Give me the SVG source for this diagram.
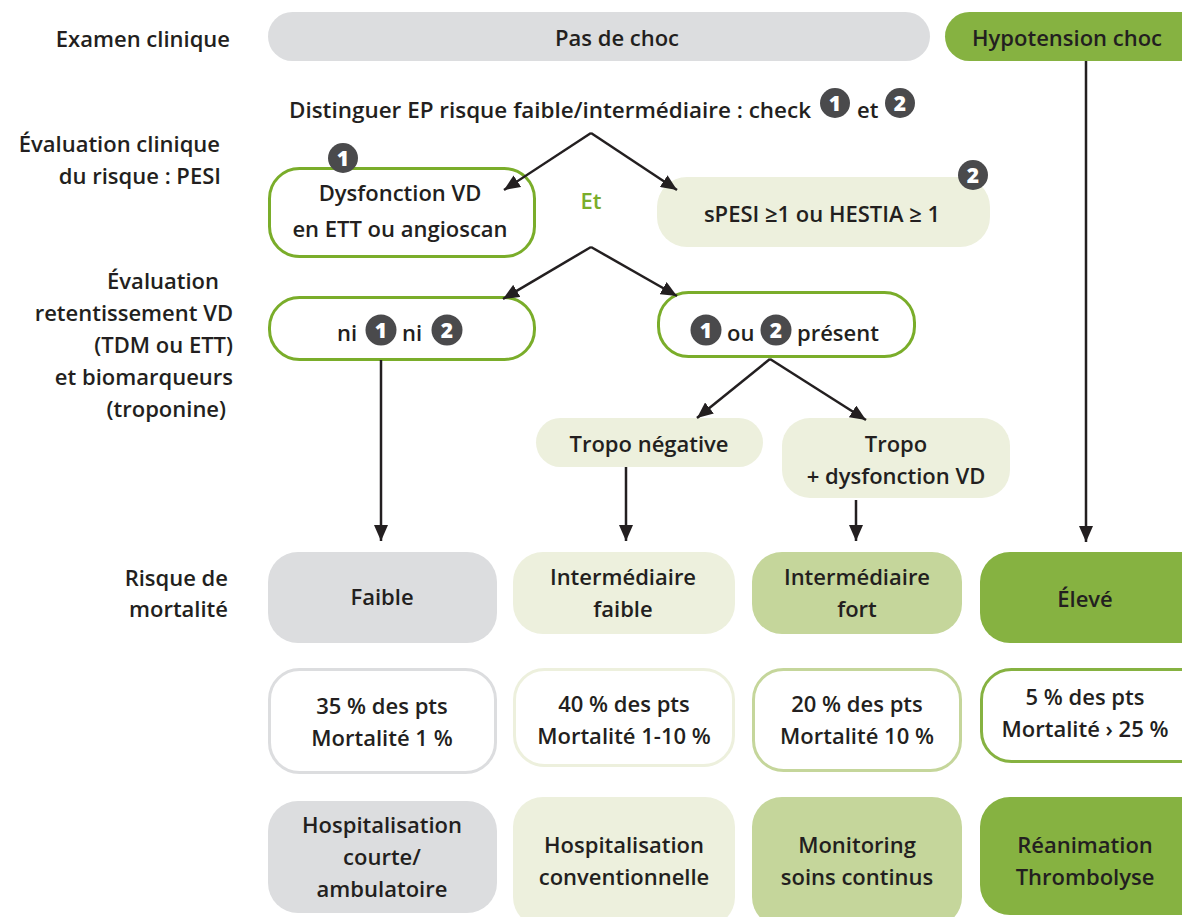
<svg xmlns="http://www.w3.org/2000/svg" width="1182" height="917" viewBox="0 0 1182 917">
<defs>
<marker id="ah" viewBox="0 0 16 14" refX="16" refY="7" markerWidth="16" markerHeight="14" orient="auto" markerUnits="userSpaceOnUse"><path d="M0 0 L16 7 L0 14 Z" fill="#231f20"/></marker>
<style>
text{font-family:"Open Sans","Noto Sans","Liberation Sans",sans-serif;font-size:22px;font-weight:600;fill:#231f20}
.c{text-anchor:middle}
.r{text-anchor:end}
.b{font-size:21px;font-weight:800;fill:#fff;text-anchor:middle}
.bd{fill:#4a4a4c}
.grey{fill:#dcdddf}
.pale{fill:#edf0dd}
.mid{fill:#c5d69b}
.dark{fill:#86b241}
.gbox{fill:#fff;stroke:#7aad2a;stroke-width:3}
.conn{stroke:#231f20;stroke-width:2.5;fill:none;marker-end:url(#ah)}
</style>
</defs>
<g id="labels">
<text class="r" x="230" y="47">Examen clinique</text>
<text class="r" x="220" y="152">Évaluation clinique</text>
<text class="r" x="221" y="184">du risque : PESI</text>
<text class="r" x="219" y="289">Évaluation</text>
<text class="r" x="233" y="321">retentissement VD</text>
<text class="r" x="233" y="353">(TDM ou ETT)</text>
<text class="r" x="233" y="385">et biomarqueurs</text>
<text class="r" x="226" y="417">(troponine)</text>
<text class="r" x="228" y="586">Risque de</text>
<text class="r" x="228" y="617">mortalité</text>
</g>
<g id="pas-de-choc"><rect class="grey" x="268" y="12" width="662" height="49" rx="24.5"/><text class="c" x="617" y="46">Pas de choc</text></g>
<g id="hypotension"><rect class="dark" x="945" y="12" width="260" height="49" rx="24.5"/><text class="c" x="1067" y="46">Hypotension choc</text></g>
<g id="distinguer">
<text x="289" y="118" textLength="522" lengthAdjust="spacingAndGlyphs">Distinguer EP risque faible/intermédiaire : check</text>
<circle class="bd" cx="835" cy="103" r="15"/><text class="b" x="835" y="111">1</text>
<text x="857" y="118">et</text>
<circle class="bd" cx="900" cy="103" r="15"/><text class="b" x="900" y="111">2</text>
</g>
<g id="dysfonction">
<rect class="gbox" x="269.5" y="168.5" width="265" height="88" rx="30"/>
<text class="c" x="400" y="201">Dysfonction VD</text>
<text class="c" x="400" y="237">en ETT ou angioscan</text>
<circle class="bd" cx="343" cy="158" r="15"/><text class="b" x="343" y="166">1</text>
</g>
<g id="et"><text class="c" x="591" y="209" style="fill:#7aad2a">Et</text></g>
<g id="spesi">
<rect class="pale" x="657" y="177" width="333" height="70" rx="30"/>
<text class="c" x="822" y="222">sPESI ≥1 ou HESTIA ≥ 1</text>
<circle class="bd" cx="973" cy="175" r="15"/><text class="b" x="973" y="183">2</text>
</g>
<g id="ni-ni">
<rect class="gbox" x="269.5" y="297.5" width="265" height="62" rx="30"/>
<text x="337" y="341">ni</text>
<circle class="bd" cx="381" cy="330" r="15.5"/><text class="b" x="381" y="338">1</text>
<text x="402" y="341">ni</text>
<circle class="bd" cx="447" cy="330" r="15.5"/><text class="b" x="447" y="338">2</text>
</g>
<g id="ou-present">
<rect class="gbox" x="658.5" y="292.5" width="256" height="64" rx="30"/>
<circle class="bd" cx="706" cy="330" r="15.5"/><text class="b" x="706" y="338">1</text>
<text x="727" y="341">ou</text>
<circle class="bd" cx="776" cy="330" r="15.5"/><text class="b" x="776" y="338">2</text>
<text x="797" y="341">présent</text>
</g>
<g id="tropo-neg"><rect class="pale" x="536" y="418" width="227" height="49" rx="24.5"/><text class="c" x="649" y="452">Tropo négative</text></g>
<g id="tropo-dys"><rect class="pale" x="782" y="418" width="228" height="80" rx="28"/><text class="c" x="896" y="452">Tropo</text><text class="c" x="896" y="484">+ dysfonction VD</text></g>
<g id="faible"><rect class="grey" x="268" y="552" width="229" height="91" rx="30"/><text class="c" x="382" y="605">Faible</text></g>
<g id="inter-faible"><rect class="pale" x="513" y="552" width="222" height="82" rx="30"/><text class="c" x="623" y="585">Intermédiaire</text><text class="c" x="623" y="617">faible</text></g>
<g id="inter-fort"><rect class="mid" x="752" y="552" width="210" height="82" rx="30"/><text class="c" x="857" y="585">Intermédiaire</text><text class="c" x="857" y="617">fort</text></g>
<g id="eleve"><rect class="dark" x="980" y="552" width="230" height="91" rx="30"/><text class="c" x="1085" y="607">Élevé</text></g>
<g id="m35"><rect x="269.5" y="669.5" width="226" height="103" rx="30" fill="#fff" stroke="#dcdddf" stroke-width="3"/><text class="c" x="382" y="714">35 % des pts</text><text class="c" x="382" y="746">Mortalité 1 %</text></g>
<g id="m40"><rect x="514.5" y="669.5" width="219" height="96" rx="30" fill="#fff" stroke="#edf0dd" stroke-width="3"/><text class="c" x="624" y="712">40 % des pts</text><text class="c" x="624" y="744">Mortalité 1-10 %</text></g>
<g id="m20"><rect x="753.5" y="669.5" width="207" height="101" rx="30" fill="#fff" stroke="#c5d69b" stroke-width="3"/><text class="c" x="857" y="712">20 % des pts</text><text class="c" x="857" y="744">Mortalité 10 %</text></g>
<g id="m5"><rect x="981.5" y="669.5" width="230" height="92" rx="30" fill="#fff" stroke="#86b241" stroke-width="3"/><text class="c" x="1085" y="705">5 % des pts</text><text class="c" x="1085" y="737">Mortalité › 25 %</text></g>
<g id="hosp-courte"><rect class="grey" x="268" y="801" width="229" height="112" rx="30"/><text class="c" x="382" y="833">Hospitalisation</text><text class="c" x="382" y="865">courte/</text><text class="c" x="382" y="897">ambulatoire</text></g>
<g id="hosp-conv"><rect class="pale" x="513" y="797" width="222" height="130" rx="30"/><text class="c" x="624" y="853">Hospitalisation</text><text class="c" x="624" y="885">conventionnelle</text></g>
<g id="monitoring"><rect class="mid" x="752" y="797" width="210" height="130" rx="30"/><text class="c" x="857" y="853">Monitoring</text><text class="c" x="857" y="885">soins continus</text></g>
<g id="reanimation"><rect class="dark" x="980" y="797" width="230" height="118" rx="30"/><text class="c" x="1085" y="853">Réanimation</text><text class="c" x="1085" y="885">Thrombolyse</text></g>
<g id="connectors">
<path class="conn" d="M1086 61 V542"/>
<path class="conn" d="M591 133 L504 190"/>
<path class="conn" d="M591 133 L677 190"/>
<path class="conn" d="M591 247 L503 299"/>
<path class="conn" d="M591 247 L677 296"/>
<path class="conn" d="M381 360 V541"/>
<path class="conn" d="M770 359 L697 418"/>
<path class="conn" d="M770 359 L866 420"/>
<path class="conn" d="M626 467 V541"/>
<path class="conn" d="M856 500 V541"/>
</g>
</svg>
